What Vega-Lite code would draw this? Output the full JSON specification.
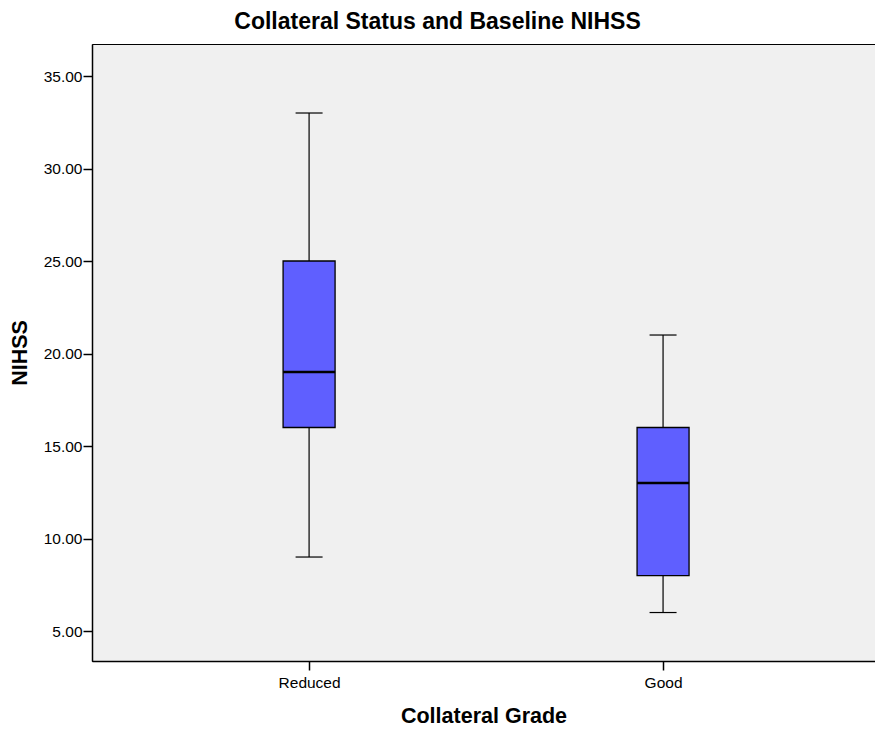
{
  "$schema": "https://vega.github.io/schema/vega-lite/v6.json",
  "autosize": "none",
  "width": 783,
  "height": 617,
  "padding": {"left": 92, "top": 44, "right": 0, "bottom": 72},
  "background": "white",
  "title": {
    "text": "Collateral Status and Baseline NIHSS",
    "font": "Liberation Sans",
    "fontSize": 23,
    "fontWeight": "bold",
    "color": "black",
    "anchor": "middle",
    "frame": "group",
    "dx": -46,
    "offset": 10
  },
  "data": {
    "values": [
      {"grade": "Reduced", "min": 9, "q1": 16, "median": 19, "q3": 25, "max": 33},
      {"grade": "Good", "min": 6, "q1": 8, "median": 13, "q3": 16, "max": 21}
    ]
  },
  "config": {
    "view": {"fill": "#F0F0F0", "stroke": "black", "strokeWidth": 1},
    "axis": {
      "domainColor": "black",
      "domainWidth": 1.5,
      "tickColor": "black",
      "tickWidth": 1.5,
      "labelColor": "black",
      "labelFont": "Liberation Sans",
      "labelFontSize": 15.5,
      "titleFont": "Liberation Sans",
      "titleFontSize": 21.5,
      "titleFontWeight": "bold",
      "titleColor": "black",
      "grid": false
    }
  },
  "encoding": {
    "x": {
      "field": "grade",
      "type": "nominal",
      "sort": ["Reduced", "Good"],
      "scale": {"type": "point", "padding": 0.606, "align": 0.506},
      "axis": {"title": "Collateral Grade", "labelAngle": 0, "tickSize": 9, "labelPadding": 5, "titlePadding": 15}
    }
  },
  "layer": [
    {
      "mark": {"type": "rule", "color": "black", "strokeWidth": 1.2},
      "encoding": {
        "y": {
          "field": "min",
          "type": "quantitative",
          "scale": {"domain": [3.38, 36.73], "nice": false, "zero": false},
          "axis": {"title": "NIHSS", "values": [5, 10, 15, 20, 25, 30, 35], "format": ".2f", "tickSize": 9, "labelPadding": 1, "titlePadding": 12}
        },
        "y2": {"field": "max"}
      }
    },
    {
      "mark": {"type": "bar", "size": 52, "fill": "#5F5FFF", "stroke": "black", "strokeWidth": 1.3},
      "encoding": {
        "y": {"field": "q1", "type": "quantitative"},
        "y2": {"field": "q3"}
      }
    },
    {
      "mark": {"type": "tick", "size": 52, "thickness": 2.7, "color": "black", "opacity": 1},
      "encoding": {"y": {"field": "median", "type": "quantitative"}}
    },
    {
      "mark": {"type": "tick", "size": 27, "thickness": 1.2, "color": "black", "opacity": 1},
      "encoding": {"y": {"field": "min", "type": "quantitative"}}
    },
    {
      "mark": {"type": "tick", "size": 27, "thickness": 1.2, "color": "black", "opacity": 1},
      "encoding": {"y": {"field": "max", "type": "quantitative"}}
    }
  ]
}
